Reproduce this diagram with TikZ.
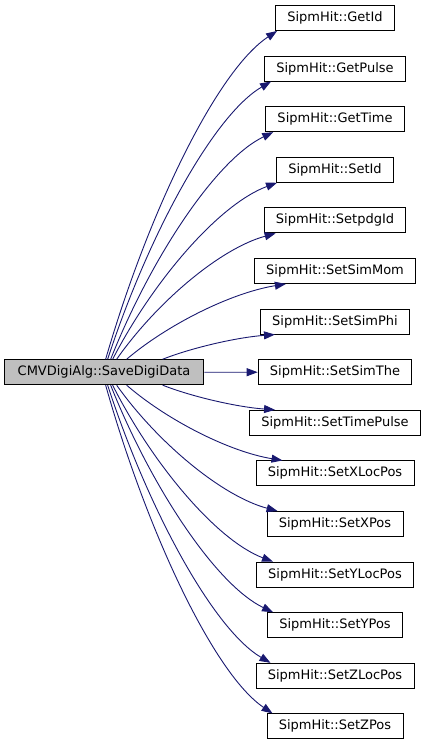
\documentclass[tikz,border=0pt]{standalone}
\usepackage{fontspec}
\setmainfont{DejaVu Sans}
\usetikzlibrary{arrows.meta,calc}
\definecolor{edgeblue}{RGB}{25,25,112}
\definecolor{srcgray}{RGB}{191,191,191}
\begin{document}
\begin{tikzpicture}[x=1pt,y=-1pt,
  box/.style={draw=black,line width=0.9pt,fill=white,minimum height=25pt,inner xsep=11.8pt,inner ysep=0pt,font=\fontsize{13}{15}\selectfont,anchor=center},
  srcbox/.style={box,fill=srcgray,inner xsep=13.6pt},
  call/.style={draw=edgeblue,line width=0.9pt,-{Triangle[length=11pt,width=8pt]},color=edgeblue}]
\useasboundingbox (0,0) rectangle (425,747);
\node[srcbox] (src) at (104,372.2) {CMVDigiAlg::SaveDigiData};
\foreach \nm/\txt [count=\i from 0] in {n0/GetId,n1/GetPulse,n2/GetTime,n3/SetId,n4/SetpdgId,n5/SetSimMom,n6/SetSimPhi,n7/SetSimThe,n8/SetTimePulse,n9/SetXLocPos,n10/SetXPos,n11/SetYLocPos,n12/SetYPos,n13/SetZLocPos,n14/SetZPos}
  \node[box] (\nm) at (335,18+50.6*\i) {SipmHit::\txt};
% upper edges
\foreach \nm/\sx/\dx in {n0/106/2,n1/108/7,n2/111/8,n3/113/1,n4/117/12,n5/127/32,n6/163/15}{
  \coordinate (s) at ($(src.north west)+(\sx-4,0)$);
  \coordinate (e) at ($(\nm.south west)+(\dx,0)$);
  \draw[call] let \p1=(s), \p2=(e) in (s) .. controls (\x1+0.25*\x2-0.25*\x1,\y1+0.45*\y2-0.45*\y1) and (\x2-0.35*\x2+0.35*\x1,\y2-0.12*\y2+0.12*\y1) .. (e);
}
% lower edges
\foreach \nm/\sx/\dx in {n8/163/26,n9/127/27,n10/117/11,n11/113/17,n12/111/6,n13/108/15,n14/106/6}{
  \coordinate (s) at ($(src.south west)+(\sx-4,0)$);
  \coordinate (e) at ($(\nm.north west)+(\dx,0)$);
  \draw[call] let \p1=(s), \p2=(e) in (s) .. controls (\x1+0.25*\x2-0.25*\x1,\y1+0.45*\y2-0.45*\y1) and (\x2-0.35*\x2+0.35*\x1,\y2-0.12*\y2+0.12*\y1) .. (e);
}
\draw[call] (src.east) -- (n7.west);
\end{tikzpicture}
\end{document}
